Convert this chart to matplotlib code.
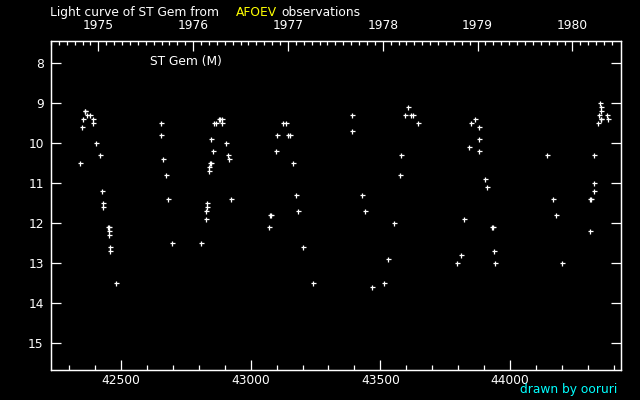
import matplotlib
matplotlib.use("Agg")
import matplotlib.pyplot as plt
import numpy as np

# Julian date - 2400000 and visual magnitude of each observation
jd = [42344, 42352, 42356, 42361, 42363, 42371, 42382, 42394, 42394, 42406, 42418,
      42429, 42433, 42433, 42450, 42454, 42456, 42456, 42460, 42460, 42483,
      42653, 42653, 42664, 42676, 42683, 42699,
      42810, 42830, 42830, 42834, 42834, 42841, 42841, 42843, 42846, 42849, 42857,
      42860, 42868, 42877, 42881, 42891, 42891, 42907, 42914, 42918, 42926,
      43072, 43076, 43080, 43096, 43103, 43125, 43138, 43146, 43150, 43165, 43176,
      43184, 43203, 43242,
      43392, 43392, 43431, 43442, 43469, 43515, 43531, 43554, 43577, 43581, 43596,
      43608, 43619, 43627, 43643,
      43797, 43812, 43824, 43843, 43851, 43866, 43878, 43881, 43881, 43904, 43912,
      43931, 43935, 43939, 43943,
      44143, 44166, 44178, 44201, 44309, 44308, 44312, 44321, 44324, 44324, 44340,
      44344, 44347, 44348, 44350, 44351, 44351, 44374, 44378]
mag = [10.5, 9.6, 9.4, 9.2, 9.2, 9.3, 9.3, 9.4, 9.5, 10.0, 10.3,
       11.2, 11.5, 11.6, 12.1, 12.1, 12.2, 12.3, 12.6, 12.7, 13.5,
       9.5, 9.8, 10.4, 10.8, 11.4, 12.5,
       12.5, 11.9, 11.7, 11.5, 11.6, 10.7, 10.6, 10.5, 10.5, 9.9, 10.2,
       9.5, 9.5, 9.4, 9.4, 9.4, 9.5, 10.0, 10.3, 10.4, 11.4,
       12.1, 11.8, 11.8, 10.2, 9.8, 9.5, 9.5, 9.8, 9.8, 10.5, 11.3,
       11.7, 12.6, 13.5,
       9.3, 9.7, 11.3, 11.7, 13.6, 13.5, 12.9, 12.0, 10.8, 10.3, 9.3,
       9.1, 9.3, 9.3, 9.5,
       13.0, 12.8, 11.9, 10.1, 9.5, 9.4, 9.6, 9.9, 10.2, 10.9, 11.1,
       12.1, 12.1, 12.7, 13.0,
       10.3, 11.4, 11.8, 13.0, 12.2, 11.4, 11.4, 11.2, 11.0, 10.3, 9.5,
       9.3, 9.0, 9.4, 9.4, 9.1, 9.2, 9.3, 9.4]

years = [1975, 1976, 1977, 1978, 1979, 1980]
x_major = [42500, 43000, 43500, 44000]
y_major = [8, 9, 10, 11, 12, 13, 14, 15]

JD1975 = 42413.5
def year_to_jd(y):
    return JD1975 + (np.asarray(y) - 1975) * 365.25

fig = plt.figure(figsize=(6.4, 4.0), dpi=100, facecolor='black')
W, H = 640.0, 400.0
L, R, T, B = 50.7, 620.5, 40.7, 370.3
ax = fig.add_axes([L / W, 1 - B / H, (R - L) / W, (B - T) / H])
ax.set_facecolor('black')

ax.plot(jd, mag, linestyle='none', marker='+', color='white',
        markersize=3.6, markeredgewidth=0.9)

ax.set_xlim(42230, 44425)
ax.set_ylim(15.69, 7.45)

for s in ax.spines.values():
    s.set_color('white')
    s.set_linewidth(0.9)

fs = 8.8
ax.set_xticks(x_major)
ax.set_xticks(np.arange(42300, 44425, 100), minor=True)
ax.set_xticklabels([str(v) for v in x_major])
ax.set_yticks(y_major)
ax.set_yticklabels([str(v) for v in y_major])
ax.tick_params(axis='x', which='major', direction='in', length=7.2, width=0.9,
               color='white', labelcolor='white', labelsize=fs, pad=2.5,
               bottom=True, top=False)
ax.tick_params(axis='x', which='minor', direction='in', length=3.6, width=0.9,
               color='white', bottom=True, top=False)
ax.tick_params(axis='y', which='major', direction='in', length=7.2, width=0.9,
               color='white', labelcolor='white', labelsize=fs, pad=5,
               left=True, right=True)
ax.tick_params(axis='y', which='minor', left=False, right=False)

# top axis: calendar years
ax2 = ax.twiny()
ax2.set_xlim(ax.get_xlim())
ax2.set_xticks(year_to_jd(years))
ax2.set_xticklabels([str(y) for y in years])
minor_years = np.arange(1974.5, 1980.5, 1 / 12)
mj = year_to_jd(minor_years)
mj = mj[(mj > 42230) & (mj < 44425)]
ax2.set_xticks(mj, minor=True)
ax2.tick_params(axis='x', which='major', direction='in', length=7.2, width=0.9,
                color='white', labelcolor='white', labelsize=fs, pad=6)
ax2.tick_params(axis='x', which='minor', direction='in', length=3.0, width=0.9,
                color='white')
for s in ax2.spines.values():
    s.set_color('white')
    s.set_linewidth(0.9)

def px(x, y):
    return x / W, 1 - y / H

fig.text(*px(50, 12.5), "Light curve of ST Gem from", color='white', fontsize=fs,
         ha='left', va='center')
fig.text(*px(236, 12.5), "AFOEV", color='#ffff00', fontsize=fs, ha='left', va='center')
fig.text(*px(281, 12.5), "observations", color='white', fontsize=fs, ha='left', va='center')
fig.text(*px(150, 61), "ST Gem (M)", color='white', fontsize=fs, ha='left', va='center')
fig.text(*px(617.5, 389), "drawn by ooruri", color='#00ffff', fontsize=fs,
         ha='right', va='center')

fig.savefig("out.png", dpi=100, facecolor='black')
